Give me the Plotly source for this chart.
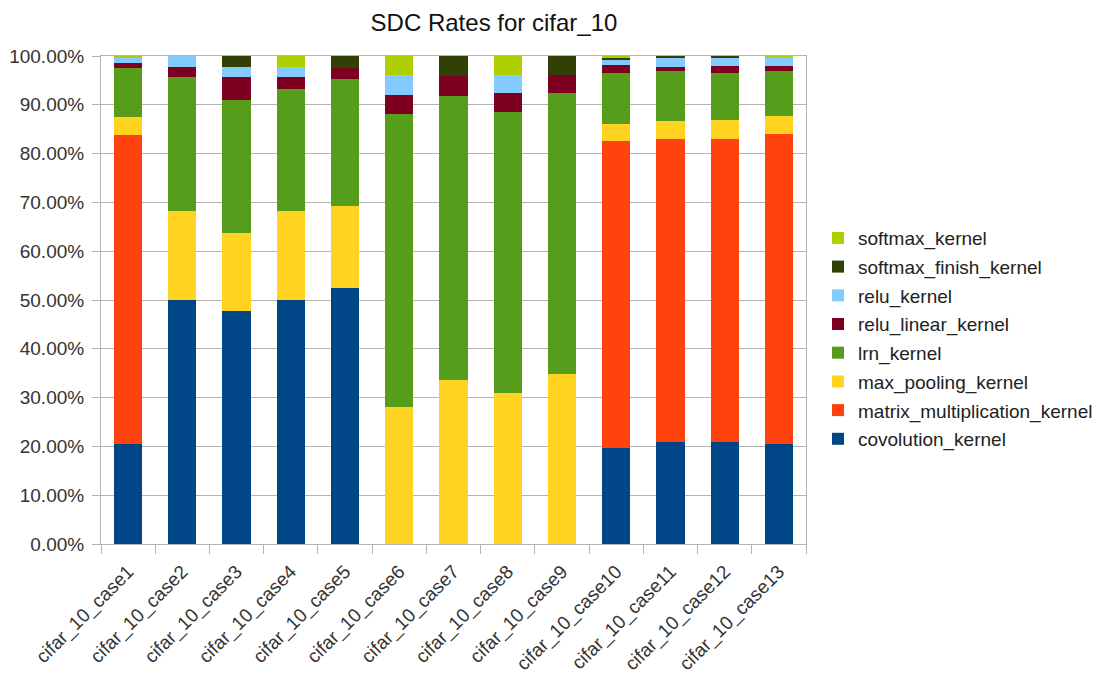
import plotly.graph_objects as go

categories = [f"cifar_10_case{i}" for i in range(1, 14)]

covolution_kernel = [20.5, 50.0, 47.7, 50.0, 52.5, 0, 0, 0, 0, 19.7, 20.9, 20.9, 20.5]
matrix_multiplication_kernel = [63.3, 0, 0, 0, 0, 0, 0, 0, 0, 62.8, 62.0, 62.0, 63.6]
max_pooling_kernel = [3.8, 18.2, 16.0, 18.2, 16.8, 28.1, 33.6, 30.9, 34.8, 3.5, 3.8, 4.0, 3.7]
lrn_kernel = [9.9, 27.4, 27.3, 25.1, 26.0, 60.0, 58.2, 57.7, 57.7, 10.6, 10.2, 9.7, 9.2]
relu_linear_kernel = [1.0, 2.2, 4.6, 2.3, 2.3, 3.9, 4.2, 3.8, 3.7, 1.5, 0.9, 1.4, 0.9]
relu_kernel = [1.2, 2.2, 2.2, 2.2, 0, 4.1, 0, 3.8, 0, 1.0, 1.7, 1.5, 1.6]
softmax_finish_kernel = [0, 0, 2.2, 0, 2.4, 0, 4.0, 0, 3.8, 0.5, 0.5, 0.5, 0]
softmax_kernel = [0.3, 0, 0, 2.2, 0, 3.9, 0, 3.8, 0, 0.4, 0, 0, 0.5]

series = [
    ("covolution_kernel", covolution_kernel, "#004586"),
    ("matrix_multiplication_kernel", matrix_multiplication_kernel, "#ff420e"),
    ("max_pooling_kernel", max_pooling_kernel, "#ffd320"),
    ("lrn_kernel", lrn_kernel, "#579d1c"),
    ("relu_linear_kernel", relu_linear_kernel, "#7e0021"),
    ("relu_kernel", relu_kernel, "#83caff"),
    ("softmax_finish_kernel", softmax_finish_kernel, "#314004"),
    ("softmax_kernel", softmax_kernel, "#aecf00"),
]

fig = go.Figure()
n = len(series)
for i, (name, vals, color) in enumerate(series):
    fig.add_trace(go.Bar(
        x=categories, y=[v / 100.0 for v in vals], name=name, legendgroup=name,
        legendrank=(n - i) * 10,
        marker=dict(color=color, line=dict(width=0)),
    ))

font = "Liberation Sans, Arial, sans-serif"
fig.update_layout(
    barmode="stack",
    bargap=0.48,
    width=1102, height=667,
    margin=dict(l=93, r=302, t=48, b=131),
    paper_bgcolor="white", plot_bgcolor="white",
    font=dict(family=font, size=19, color="#333333"),
    title=dict(text="SDC Rates for cifar_10", x=0.441, xanchor="center",
               y=0.99, yanchor="top", font=dict(size=24, color="#111111")),
    legend=dict(x=1.017, xanchor="left", y=0.421, yanchor="middle",
                traceorder="grouped", tracegroupgap=1,
                font=dict(size=19, color="#222222")),
    showlegend=True,
)
fig.update_yaxes(range=[0, 1], dtick=0.1, tickformat=".2%",
                 showgrid=True, gridcolor="#b3b3b3", gridwidth=1,
                 showline=True, linecolor="#b3b3b3", mirror=True,
                 ticks="outside", ticklen=8, tickcolor="#b3b3b3",
                 ticklabelstandoff=4,
                 zeroline=False, automargin=False,
                 tickfont=dict(size=19, color="#333333"))
fig.update_xaxes(showgrid=False, showline=True, linecolor="#b3b3b3", mirror=True,
                 ticks="outside", tickson="boundaries", ticklen=9, tickcolor="#b3b3b3",
                 tickangle=-45, automargin=False, ticklabelstandoff=8,
                 tickfont=dict(size=19, color="#333333"))

fig.write_html("out.html")
